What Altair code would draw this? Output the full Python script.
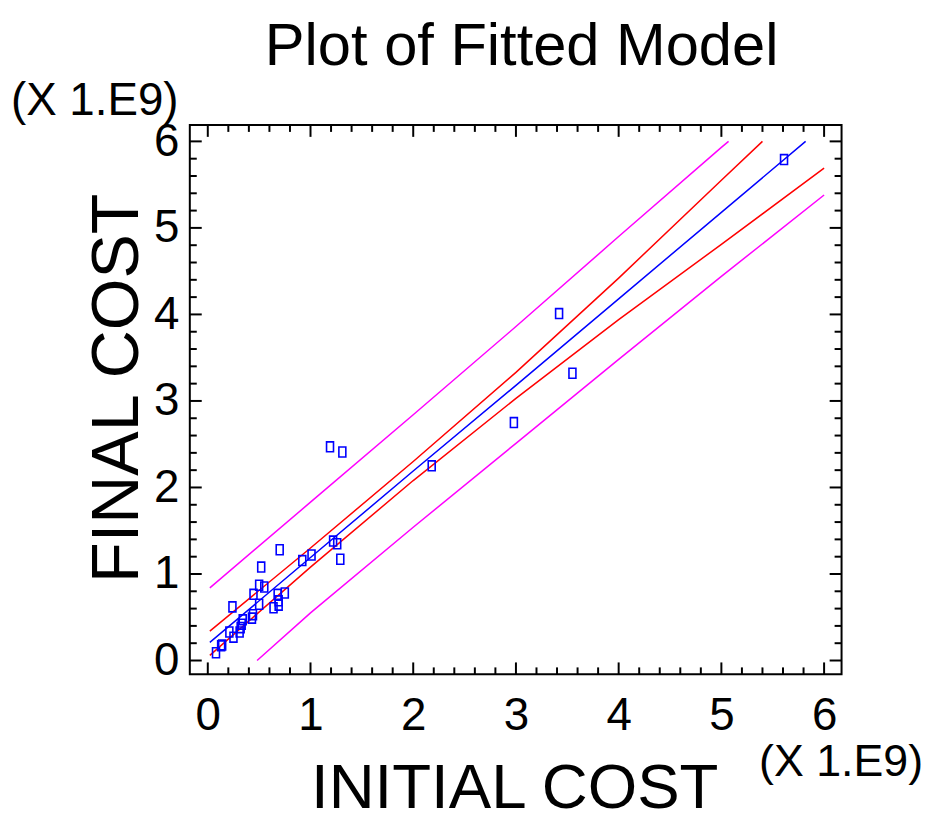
import altair as alt
import pandas as pd

FONT = "Liberation Sans"
TITLE = "Plot of Fitted Model"
X_TITLE = "INITIAL COST"
Y_TITLE = "FINAL COST"
SCALE_NOTE = "(X 1.E9)"

# observed data (units of 1.E9)
initial_cost = [0.08, 0.13, 0.14, 0.21, 0.25, 0.24, 0.31, 0.32, 0.33, 0.34,
                0.43, 0.44, 0.445, 0.50, 0.55, 0.50, 0.52, 0.70, 0.64, 0.68,
                0.69, 0.69, 0.75, 0.92, 1.01, 1.22, 1.26, 1.29, 1.19, 1.31,
                2.18, 2.98, 3.42, 3.55, 5.61]
final_cost = [0.09, 0.17, 0.18, 0.33, 0.27, 0.62, 0.33, 0.38, 0.42, 0.47,
              0.49, 0.53, 0.765, 0.87, 0.85, 0.65, 1.08, 1.28, 0.61, 0.765,
              0.69, 0.64, 0.78, 1.155, 1.22, 1.38, 1.35, 1.17, 2.47, 2.41,
              2.25, 2.75, 4.01, 3.32, 5.79]

# fitted line and limits
fit_x = [0.02, 1.0, 2.0, 3.0, 4.0, 5.0, 5.82]
fit_y = [0.21, 1.19, 2.19, 3.18, 4.18, 5.18, 6.0]
conf_up_x = [0.02, 1.0, 2.0, 3.0, 4.0, 5.0, 5.40]
conf_up_y = [0.34, 1.30, 2.30, 3.33, 4.42, 5.55, 6.0]
conf_lo_x = [0.02, 1.0, 2.0, 3.0, 4.0, 5.0, 6.0]
conf_lo_y = [0.06, 1.08, 2.08, 3.03, 3.94, 4.81, 5.69]
pred_up_x = [0.02, 1.0, 2.0, 3.0, 4.0, 5.0, 5.07]
pred_up_y = [0.84, 1.83, 2.84, 3.86, 4.90, 5.93, 6.0]
pred_lo_x = [0.48, 1.0, 2.0, 3.0, 4.0, 5.0, 6.0]
pred_lo_y = [0.0, 0.55, 1.54, 2.51, 3.48, 4.44, 5.38]

major_ticks = [0, 1, 2, 3, 4, 5, 6]
minor_ticks = [0.2, 0.4, 0.6, 0.8, 1.2, 1.4, 1.6, 1.8, 2.2, 2.4, 2.6, 2.8,
               3.2, 3.4, 3.6, 3.8, 4.2, 4.4, 4.6, 4.8, 5.2, 5.4, 5.6, 5.8]

W, H = 656, 553
x_scale = alt.Scale(domain=[-0.175, 6.17], nice=False, zero=False)
y_scale = alt.Scale(domain=[-0.16, 6.19], nice=False, zero=False)

X_AXIS = alt.Axis(values=major_ticks, ticks=False, domain=False, grid=False,
                  labelFontSize=46, labelPadding=20, title=None, labelFont=FONT,
                  labelColor="black", format="d", labelFlush=False)
Y_AXIS = alt.Axis(values=major_ticks, ticks=False, domain=False, grid=False,
                  labelFontSize=46, labelPadding=11, title=None, labelFont=FONT,
                  labelColor="black", format="d", labelFlush=False)


def xenc(f):
    return alt.X(f"{f}:Q", scale=x_scale, axis=X_AXIS)


def yenc(f):
    return alt.Y(f"{f}:Q", scale=y_scale, axis=Y_AXIS)


pts = pd.DataFrame({"x": initial_cost, "y": final_cost})

rows = []
for name, xs, ys in [("fit", fit_x, fit_y), ("cu", conf_up_x, conf_up_y),
                     ("cl", conf_lo_x, conf_lo_y), ("pu", pred_up_x, pred_up_y),
                     ("pl", pred_lo_x, pred_lo_y)]:
    for i, (a, b) in enumerate(zip(xs, ys)):
        rows.append({"s": name, "o": i, "x": a, "y": b})
lines_df = pd.DataFrame(rows)

lines = alt.Chart(lines_df).mark_line(strokeWidth=1.5).encode(
    x=xenc("x"), y=yenc("y"), order="o:Q", detail="s:N",
    color=alt.Color("s:N", legend=None,
                    scale=alt.Scale(domain=["fit", "cu", "cl", "pu", "pl"],
                                    range=["#0000ff", "#ff0000", "#ff0000", "#ff00ff", "#ff00ff"])))

points = alt.Chart(pts).mark_point(
    shape="M-0.7,-1L0.7,-1L0.7,1L-0.7,1Z", size=100, filled=False,
    color="#0000ff", strokeWidth=1.6, opacity=1).encode(x=xenc("x"), y=yenc("y"))

maj = pd.DataFrame({"v": major_ticks})
mnr = pd.DataFrame({"v": minor_ticks})
tick_layers = []
for df, L in [(maj, 12), (mnr, 7)]:
    base = alt.Chart(df).mark_rule(color="black", strokeWidth=2)
    tick_layers += [
        base.encode(x=xenc("v"), y=alt.value(H), y2=alt.value(H - L)),
        base.encode(x=xenc("v"), y=alt.value(0), y2=alt.value(L)),
        base.encode(y=yenc("v"), x=alt.value(0), x2=alt.value(L)),
        base.encode(y=yenc("v"), x=alt.value(W), x2=alt.value(W - L)),
    ]


def label(text, size, x, y, align="left", angle=0):
    return alt.Chart(pd.DataFrame({"t": [text]})).mark_text(
        font=FONT, fontSize=size, align=align, baseline="alphabetic",
        angle=angle, color="black").encode(text="t:N", x=alt.value(x), y=alt.value(y))


texts = [
    label(TITLE, 60, 334, -60, "center"),
    label(SCALE_NOTE, 46, -180, -10, "left"),
    label(SCALE_NOTE, 45, 573, 655, "left"),
    label(X_TITLE, 64, 327, 688, "center"),
    label(Y_TITLE, 67, -52, 265, "center", 270),
]

chart = alt.layer(*tick_layers, lines, points, *texts).properties(
    width=W, height=H,
    autosize=alt.AutoSizeParams(type="none"),
    padding={"left": 183, "top": 115, "right": 86, "bottom": 160},
    background="white",
).configure_view(stroke="black", strokeWidth=2)

chart.save("out.html", embed_options={"renderer": "svg", "actions": False})
